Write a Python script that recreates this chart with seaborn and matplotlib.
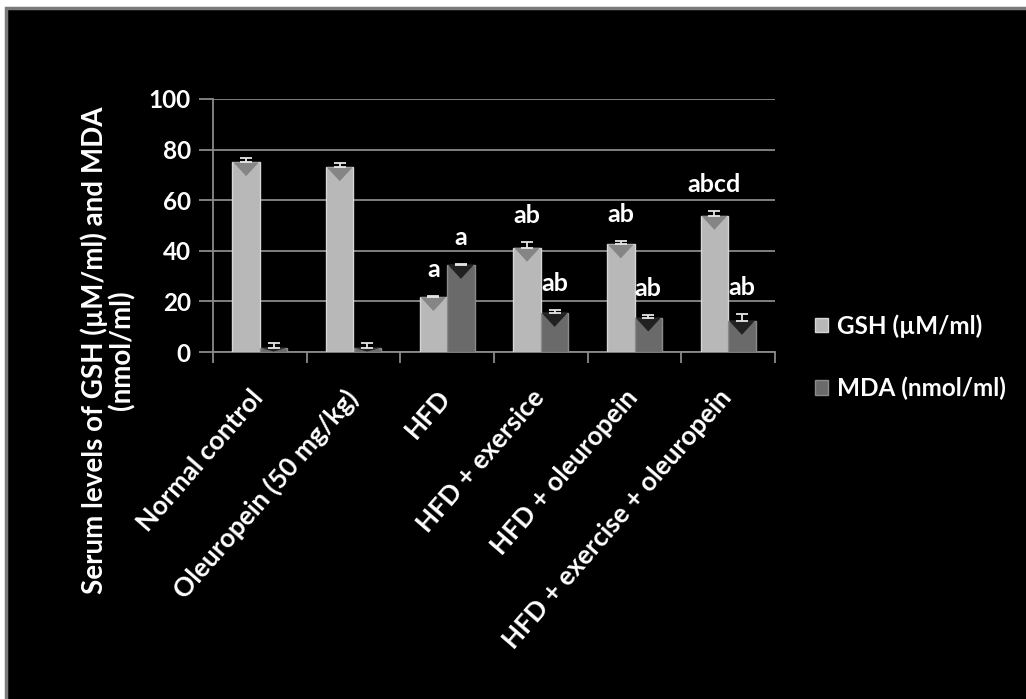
import matplotlib
matplotlib.use("Agg")
import matplotlib.pyplot as plt
import matplotlib.transforms as mtransforms
from matplotlib.patches import Rectangle, Polygon, Patch
import numpy as np
import pandas as pd
import seaborn as sns

# Treatment groups and measured values
groups = ["Normal control", "Oleuropein (50 mg/kg)", "HFD", "HFD + exersice",
          "HFD + oleuropein", "HFD + exercise + oleuropein"]
gsh = [75.0, 73.0, 21.7, 41.2, 42.5, 53.8]
gsh_err = [1.6, 1.7, 0.3, 2.2, 1.4, 1.9]
mda = [1.5, 1.5, 34.4, 15.4, 13.6, 12.3]
mda_err = [2.0, 2.0, 0.3, 1.3, 1.1, 2.6]
gsh_sig = ["", "", "a", "ab", "ab", "abcd"]
mda_sig = ["", "", "a", "ab", "ab", "ab"]
series = ["GSH (µM/ml)", "MDA (nmol/ml)"]

df = pd.DataFrame({
    "group": groups * 2,
    "series": [series[0]] * len(groups) + [series[1]] * len(groups),
    "value": gsh + mda,
})

sns.set_theme(style="dark")
plt.rcParams["font.family"] = ["Lato", "DejaVu Sans"]
plt.rcParams["font.weight"] = "bold"

fig = plt.figure(figsize=(10.26, 6.99), dpi=100, facecolor="white")
# black panel with a grey rule along the top and left
fig.patches.append(Rectangle((6 / 1026, -0.05), 1.2, 1.05 - 8 / 699,
                             transform=fig.transFigure, facecolor="black",
                             edgecolor="#7a7a7a", linewidth=2.5, zorder=-5))

ax = fig.add_axes([213 / 1026, 1 - 352 / 699, (775 - 213) / 1026, (352 - 99) / 699])
ax.set_facecolor("none")

colors = ["#b8b8b8", "#6a6a6a"]
edges = ["#d6d6d6", "#8a8a8a"]
tri_colors = ["#7c7c7c", "#151515"]
sns.barplot(data=df, x="group", y="value", hue="series", order=groups,
            hue_order=series, palette=colors, width=0.587, gap=0,
            errorbar=None, legend=False, ax=ax, zorder=3)

errs = [gsh_err, mda_err]
sigs = [gsh_sig, mda_sig]
bar_sets = list(ax.containers)[:2]
for k, cont in enumerate(bar_sets):
    xs, tops = [], []
    for bar in cont.patches:
        bar.set_edgecolor(edges[k])
        bar.set_linewidth(1.0)
        x0 = bar.get_x()
        w = bar.get_width()
        h = bar.get_height()
        xs.append(x0 + w / 2)
        tops.append(h)
        # darker wedge at the top of each bar
        th = min(5.5, h * 0.85)
        ax.add_patch(Polygon([(x0 + 0.01, h), (x0 + w - 0.01, h), (x0 + w / 2, h - th)],
                             closed=True, facecolor=tri_colors[k], edgecolor="none",
                             alpha=0.85, zorder=4))
    xs = np.array(xs)
    tops = np.array(tops)
    e = np.array(errs[k])
    ax.errorbar(xs, tops, yerr=[np.zeros_like(e), e], fmt="none",
                ecolor="#e6e6e6", elinewidth=1.3, capsize=4.5, capthick=1.3, zorder=5)
    for x, t, ee, s in zip(xs, tops, e, sigs[k]):
        if s:
            ax.text(x, t + ee + 6.0, s, ha="center", va="bottom", color="white",
                    fontsize=18, fontweight="bold", zorder=6)

ax.set_ylim(0, 100)
ax.set_xlim(-0.5, len(groups) - 0.5)
ax.set_yticks(range(0, 101, 20))
ax.yaxis.grid(True, color="#8a8a8a", linewidth=1.3, zorder=0)
ax.xaxis.grid(False)
for s in ["top", "right"]:
    ax.spines[s].set_visible(False)
for s in ["left", "bottom"]:
    ax.spines[s].set_visible(True)
    ax.spines[s].set_color("#8a8a8a")
    ax.spines[s].set_linewidth(1.3)

ax.tick_params(axis="y", colors="white", labelsize=17.5, length=10, width=1.3,
               direction="out", color="#8a8a8a", left=True, pad=6)
ax.set_xticks(range(len(groups)))
ax.set_xticklabels(groups, rotation=49, ha="right", va="top", rotation_mode="anchor",
                   fontsize=19, fontweight="bold", color="white")
ax.tick_params(axis="x", length=0, pad=24)
shift = mtransforms.ScaledTranslation(-10 / 100, 0, fig.dpi_scale_trans)
for lab in ax.get_xticklabels():
    lab.set_transform(lab.get_transform() + shift)
ax.set_xticks(np.arange(-0.5, len(groups), 1.0), minor=True)
ax.tick_params(axis="x", which="minor", length=8, width=1.3, color="#8a8a8a",
               direction="out", bottom=True)
for lab in ax.get_yticklabels():
    lab.set_fontweight("bold")
ax.set_xlabel("")
ax.set_ylabel("")

fig.text(108 / 1026, 1 - 350 / 699,
         "Serum levels of GSH (µM/ml) and MDA\n(nmol/ml)",
         rotation=90, ha="center", va="center", multialignment="center",
         color="white", fontsize=20, fontweight="bold", linespacing=1.0)

handles = [Patch(facecolor=colors[i], edgecolor=edges[i]) for i in range(2)]
leg = fig.legend(handles, series, loc="center left",
                 bbox_to_anchor=(793 / 1026, 1 - 357 / 699),
                 frameon=False, fontsize=17.5, labelcolor="white",
                 handlelength=0.55, handleheight=0.55, handletextpad=0.35,
                 labelspacing=1.6)
for t in leg.get_texts():
    t.set_fontweight("bold")

fig.savefig("out.png", dpi=100, facecolor=fig.get_facecolor())
